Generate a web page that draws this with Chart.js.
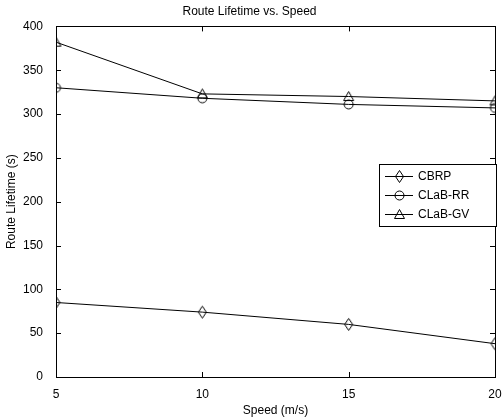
<!DOCTYPE html>
<html><head><meta charset="utf-8">
<script src="https://cdn.jsdelivr.net/npm/chart.js@4/dist/chart.umd.min.js"></script>
<style>html,body{margin:0;padding:0;background:#fff;}canvas{display:block;}</style>
</head><body>
<canvas id="c" width="502" height="418"></canvas>
<script>
const speeds = [5, 10, 15, 20];
const cbrp = [85, 74, 60, 38];
const clabRR = [330, 318, 311, 307];
const clabGV = [382, 323, 320, 315];
const seriesNames = ['CBRP', 'CLaB-RR', 'CLaB-GV'];
const yTicks = [0, 50, 100, 150, 200, 250, 300, 350, 400];
const xTicks = [5, 10, 15, 20];
const FONT = 'Liberation Sans, Arial, sans-serif';

function pts(vals){ return speeds.map((s,i)=>({x:s,y:vals[i]})); }

function markerCanvas(kind){
  const c = document.createElement('canvas');
  c.width = 13; c.height = 15;
  const g = c.getContext('2d');
  g.strokeStyle = '#000'; g.lineWidth = 1;
  g.beginPath();
  if(kind==='diamond'){ g.moveTo(6.5,1.5); g.lineTo(10.5,7.5); g.lineTo(6.5,13.5); g.lineTo(2.5,7.5); g.closePath(); }
  else if(kind==='circle'){ g.arc(6.5,7.5,4.5,0,Math.PI*2); }
  else { g.moveTo(6.5,2.5); g.lineTo(11.5,11.5); g.lineTo(1.5,11.5); g.closePath(); }
  g.stroke();
  return c;
}
const markers = [markerCanvas('diamond'), markerCanvas('circle'), markerCanvas('triangle')];

const boxPlugin = {
  id:'box',
  afterDraw(chart){
    const {ctx, chartArea:a, scales} = chart;
    ctx.save();
    ctx.strokeStyle = '#000'; ctx.lineWidth = 1;
    ctx.strokeRect(Math.round(a.left)+0.5, Math.round(a.top)+0.5, Math.round(a.right-a.left), Math.round(a.bottom-a.top));
    ctx.beginPath();
    xTicks.forEach(v=>{
      const x = Math.round(scales.x.getPixelForValue(v))+0.5;
      ctx.moveTo(x,a.bottom); ctx.lineTo(x,a.bottom-5);
      ctx.moveTo(x,a.top); ctx.lineTo(x,a.top+5);
    });
    yTicks.forEach(v=>{
      const y = Math.round(scales.y.getPixelForValue(v))+0.5;
      ctx.moveTo(a.left,y); ctx.lineTo(a.left+5,y);
      ctx.moveTo(a.right,y); ctx.lineTo(a.right-5,y);
    });
    ctx.stroke();
    // legend
    const lx = 379, ly = 164, lw = 117, lh = 62;
    ctx.fillStyle = '#fff';
    ctx.fillRect(lx, ly, lw, lh);
    ctx.strokeRect(lx+0.5, ly+0.5, lw, lh);
    ctx.font = '12px ' + FONT;
    ctx.textBaseline = 'middle';
    chart.data.datasets.forEach((ds,i)=>{
      const y = ly + 12 + i*19;
      ctx.beginPath(); ctx.moveTo(lx+6, y+0.5); ctx.lineTo(lx+34, y+0.5); ctx.stroke();
      ctx.drawImage(ds.pointStyle, lx+20-6, y-7);
      ctx.fillStyle = '#000';
      ctx.fillText(ds.label, lx+39, y+1);
    });
    ctx.restore();
  }
};

const mk = (i, vals) => ({
  label: seriesNames[i], data: pts(vals), borderColor:'#000', borderWidth:1,
  pointStyle: markers[i], pointRadius:6, pointHoverRadius:6, backgroundColor:'transparent', tension:0
});

new Chart(document.getElementById('c'), {
  type:'line',
  data:{ datasets:[ mk(0,cbrp), mk(1,clabRR), mk(2,clabGV) ] },
  options:{
    responsive:false, animation:false, devicePixelRatio:1,
    layout:{ padding:{ left:0, right:3, top:0, bottom:0 } },
    plugins:{
      legend:{ display:false }, tooltip:{ enabled:false },
      title:{ display:true, text:'Route Lifetime vs. Speed', color:'#000',
        font:{ family:FONT, size:12, weight:'normal' }, padding:{ top:4, bottom:8 } }
    },
    scales:{
      x:{ type:'linear', min:5, max:20,
        afterBuildTicks(s){ s.ticks = xTicks.map(v=>({value:v})); },
        afterFit(s){ s.height = 41; s.paddingLeft = 0; s.paddingRight = 0; },
        grid:{ display:false }, border:{ display:false },
        ticks:{ color:'#000', padding:2, font:{ family:FONT, size:12 }, maxRotation:0 },
        title:{ display:true, text:'Speed (m/s)', color:'#000', padding:{top:2,bottom:0}, font:{ family:FONT, size:12 } }
      },
      y:{ min:0, max:400,
        afterBuildTicks(s){ s.ticks = yTicks.map(v=>({value:v})); },
        afterFit(s){ s.width = 56; s.paddingTop = 0; s.paddingBottom = 0; },
        grid:{ display:false }, border:{ display:false },
        ticks:{ color:'#000', padding:5, font:{ family:FONT, size:12 } },
        title:{ display:true, text:'Route Lifetime (s)', color:'#000', padding:{top:4,bottom:2}, font:{ family:FONT, size:12 } }
      }
    }
  },
  plugins:[boxPlugin]
});
</script>
</body></html>
